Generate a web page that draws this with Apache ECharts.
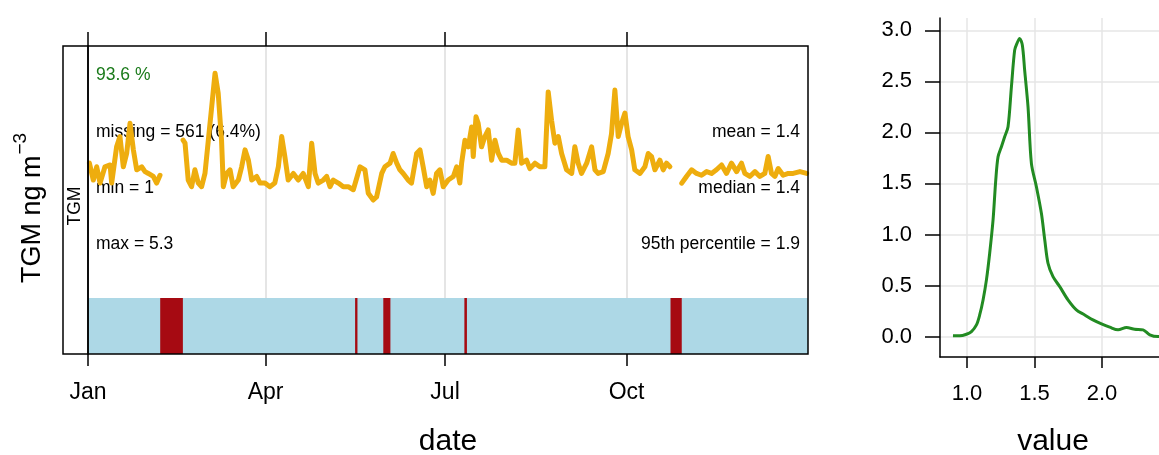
<!DOCTYPE html>
<html><head><meta charset="utf-8">
<script src="https://cdn.jsdelivr.net/npm/echarts@6/dist/echarts.min.js"></script>
<style>html,body{margin:0;padding:0;background:#fff}#c{width:1159px;height:455px}</style>
</head><body><div id="c"></div>
<script>
// ---------- data ----------
const yearStart = '2013-01-01';
const yearEnd = '2014-01-01';
const monthTickDates = ['2013-01-01', '2013-04-01', '2013-07-01', '2013-10-01'];
const monthTickLabels = ['Jan', 'Apr', 'Jul', 'Oct'];

// daily TGM (ng m-3), day offset from Jan 1; null = gap
const tsDay = [0.7,2.7,4.4,6.1,8.6,11.2,12.0,14.5,16.2,17.9,19.6,21.3,23.0,24.7,27.2,28.9,30.6,33.1,34.8,36.5,
  42,
  48.2,49.2,50.8,52.5,54.2,55.9,57.6,59.3,61.0,62.7,64.4,66.0,67.7,68.6,70.3,72.0,73.6,76.2,77.9,79.6,81.3,83.0,85.5,87.2,89.7,
  92.2,94.7,96.5,98.2,99.8,101.5,104.1,106.6,109.1,111.7,113.4,115.1,116.7,119.3,121.0,122.7,124.3,126.9,129.4,131.9,134.5,
  137.9,140.4,142.1,144.6,146.3,148.9,150.5,153.1,154.7,156.5,158.1,159.8,162.3,164.0,166.6,168.3,169.9,171.7,173.3,175.0,
  176.7,178.4,180.1,182.6,185.2,186.9,188.5,189.4,191.1,192.8,194.5,195.3,196.7,197.8,199.5,201.2,202.9,204.6,206.3,208.0,
  209.7,212.2,214.7,216.4,218.1,219.8,222.3,224.0,226.6,229.1,231.6,233.3,235.0,236.7,238.4,240.1,242.6,245.2,246.8,248.5,
  250.2,252.8,255.3,257.0,258.6,261.2,263.7,265.4,267.1,268.8,270.5,272.2,273.8,275.6,277.2,279.8,282.3,284.0,285.7,287.4,
  289.9,291.6,293.3,295.0,
  298,
  301.0,303.4,306.0,308.5,311.0,313.6,316.1,318.6,321.2,323.7,326.2,328.8,331.3,333.0,335.5,338.1,340.6,343.1,344.8,346.5,
  348.2,349.9,352.4,355.0,357.5,360.9,364.3];
const tsValue = [1.66,1.38,1.60,1.33,1.60,1.63,1.33,1.93,2.10,1.60,1.82,2.32,1.88,1.55,1.60,1.52,1.49,1.44,1.33,1.46,
  null,
  2.04,1.99,1.38,1.27,1.55,1.33,1.27,1.49,2.04,2.59,3.15,2.82,2.04,1.27,1.49,1.55,1.27,1.38,1.60,1.88,1.71,1.38,1.44,1.33,1.33,
  1.27,1.33,1.60,2.10,1.77,1.38,1.49,1.38,1.49,1.27,1.99,1.49,1.33,1.38,1.44,1.27,1.38,1.33,1.27,1.27,1.22,
  1.60,1.55,1.16,1.05,1.10,1.49,1.60,1.66,1.82,1.66,1.55,1.49,1.38,1.33,1.82,1.88,1.60,1.27,1.38,1.16,
  1.49,1.55,1.27,1.38,1.44,1.60,1.33,1.66,2.04,1.93,2.26,1.77,2.43,2.32,1.93,2.10,2.21,1.71,2.04,1.82,
  1.71,1.71,1.66,1.66,2.21,1.66,1.71,1.57,1.66,1.60,1.60,2.84,2.37,1.99,2.10,1.82,1.55,1.49,1.93,1.66,
  1.49,1.66,1.93,1.55,1.49,1.52,1.82,2.15,2.87,2.10,2.32,2.49,2.10,1.88,1.55,1.49,1.60,1.82,1.77,1.55,
  1.71,1.55,1.66,1.60,
  null,
  1.33,1.44,1.55,1.49,1.46,1.52,1.49,1.55,1.63,1.49,1.66,1.52,1.66,1.49,1.44,1.52,1.44,1.49,1.77,1.49,
  1.44,1.57,1.46,1.49,1.49,1.52,1.49];

// missing-data periods (day offsets)
const missingStartDay = [36.6, 135.4, 149.7, 190.8, 295.3];
const missingEndDay   = [48.1, 136.6, 153.3, 192.1, 301.0];

// density of TGM values
const densityX = [0.896,0.946,0.996,1.033,1.07,1.094,1.119,1.144,1.168,1.193,1.213,1.23,1.255,1.279,1.304,1.329,1.353,1.370,1.390,
  1.41,1.427,1.452,1.477,1.514,1.551,1.576,1.6,1.637,1.687,1.748,1.81,1.872,1.933,1.996,2.057,2.119,2.181,2.242,2.304,2.354,2.415,2.5];
const densityY = [0.007,0.007,0.023,0.049,0.114,0.212,0.359,0.555,0.816,1.142,1.533,1.761,1.859,1.957,2.055,2.446,2.805,2.871,2.92,
  2.854,2.61,2.25,1.697,1.468,1.207,0.946,0.718,0.587,0.489,0.359,0.261,0.212,0.163,0.124,0.092,0.066,0.088,0.072,0.066,0.017,0.0,0.0];
const densityTicksX = [1.0, 1.5, 2.0];
const densityTicksY = [0.0, 0.5, 1.0, 1.5, 2.0, 2.5, 3.0];

const varName = 'TGM';
const percentLabel = '93.6 %';
const statsLeft = ['missing = 561 (6.4%)', 'min = 1', 'max = 5.3'];
const statsRight = ['mean = 1.4', 'median = 1.4', '95th percentile = 1.9'];
const yTitleMain = 'TGM ng m';
const yTitleSup = '\u22123';

// ---------- build ----------
const FONT = '"Liberation Sans", Arial, sans-serif';
const DAY = 86400000;
const t0 = Date.parse(yearStart), t1 = Date.parse(yearEnd);
const tickTs = monthTickDates.map(d => Date.parse(d));
const tsData = tsDay.map((d, i) => [t0 + d * DAY, tsValue[i] === null ? '-' : tsValue[i]]);
const missData = missingStartDay.map((s, i) => [t0 + s * DAY, t0 + missingEndDay[i] * DAY]);
const densData = densityX.map((x, i) => [x, densityY[i]]);

const ctx = document.createElement('canvas').getContext('2d');
const yTitleSize = 27, ySupSize = 19;
ctx.font = yTitleSize + 'px "Liberation Sans"';
const yTitleW = ctx.measureText(yTitleMain).width;

const graphics = [
  {type: 'rect', shape: {x: 63, y: 46, width: 25, height: 308}, style: {fill: 'none', stroke: '#000', lineWidth: 1.5}, z: 20},
  {type: 'text', x: 75.5, y: 206, rotation: Math.PI / 2,
    style: {text: varName, fontSize: 17.5, fontFamily: FONT, fill: '#000', align: 'center', verticalAlign: 'middle'}},
  {type: 'text', x: 96, y: 75.5, style: {text: percentLabel, fontSize: 17.5, fontFamily: FONT, fill: '#1a7a1a', align: 'left', verticalAlign: 'middle'}},
  {type: 'group', x: 41.7, y: 283, rotation: Math.PI / 2, children: [
    {type: 'text', x: 0, y: -0.3465 * yTitleSize, style: {text: yTitleMain, fontSize: yTitleSize, fontFamily: FONT, fill: '#000', align: 'left', verticalAlign: 'middle'}},
    {type: 'text', x: yTitleW + 1, y: -14 - 0.3465 * ySupSize, style: {text: yTitleSup, fontSize: ySupSize, fontFamily: FONT, fill: '#000', align: 'left', verticalAlign: 'middle'}}
  ]}
];
const rowsY = [132.5, 188, 244];
statsLeft.forEach((t, i) => graphics.push({type: 'text', x: 96, y: rowsY[i],
  style: {text: t, fontSize: 17.5, fontFamily: FONT, fill: '#000', align: 'left', verticalAlign: 'middle'}}));
statsRight.forEach((t, i) => graphics.push({type: 'text', x: 800, y: rowsY[i],
  style: {text: t, fontSize: 17.5, fontFamily: FONT, fill: '#000', align: 'right', verticalAlign: 'middle'}}));

const monthFmt = v => { const i = tickTs.indexOf(v); return i >= 0 ? monthTickLabels[i] : ''; };

const option = {
  animation: false,
  backgroundColor: '#fff',
  grid: [
    {left: 88, top: 46, width: 720, height: 308, show: true, borderColor: '#000', borderWidth: 1.5, backgroundColor: 'transparent', z: 10, outerBoundsMode: 'none', containLabel: false},
    {left: 88, top: 298, width: 720, height: 56, show: true, backgroundColor: '#ADD8E6', borderWidth: 0, z: 1, outerBoundsMode: 'none', containLabel: false},
    {left: 940, top: 18, width: 226, height: 339, show: false, outerBoundsMode: 'none', containLabel: false}
  ],
  xAxis: [
    {type: 'value', gridIndex: 0, min: t0, max: t1, position: 'bottom',
      axisLine: {show: false, onZero: false},
      axisTick: {show: true, inside: false, length: 12, customValues: tickTs, lineStyle: {color: '#000', width: 1.5}},
      axisLabel: {customValues: tickTs, formatter: monthFmt, fontSize: 23, fontFamily: FONT, color: '#000', margin: 27},
      splitLine: {show: true, lineStyle: {color: '#DDDDDD', width: 1.5}},
      name: 'date', nameLocation: 'middle', nameGap: 73, nameTextStyle: {fontSize: 30, fontFamily: FONT, color: '#000'}},
    {type: 'value', gridIndex: 0, min: t0, max: t1, position: 'top',
      axisLine: {show: false, onZero: false},
      axisTick: {show: true, inside: false, length: 14, customValues: tickTs, lineStyle: {color: '#000', width: 1.5}},
      axisLabel: {show: false}, splitLine: {show: false}},
    {type: 'value', gridIndex: 1, min: t0, max: t1, show: false, axisLine: {onZero: false}},
    {type: 'value', gridIndex: 2, min: 0.8, max: 2.474,
      axisLine: {show: true, onZero: false, lineStyle: {color: '#000', width: 1.5}},
      axisTick: {show: true, length: 11, customValues: densityTicksX, lineStyle: {color: '#000', width: 1.5}},
      axisLabel: {customValues: densityTicksX, formatter: v => v.toFixed(1), fontSize: 22, fontFamily: FONT, color: '#000', margin: 26},
      splitLine: {show: true, lineStyle: {color: '#E6E6E6', width: 1.5}},
      name: 'value', nameLocation: 'middle', nameGap: 70, nameTextStyle: {fontSize: 30, fontFamily: FONT, color: '#000'}}
  ],
  yAxis: [
    {type: 'value', gridIndex: 0, min: -1.5, max: 3.6, show: false, axisLine: {onZero: false}},
    {type: 'value', gridIndex: 1, min: 0, max: 1, show: false, axisLine: {onZero: false}},
    {type: 'value', gridIndex: 2, min: -0.2, max: 3.12,
      axisLine: {show: true, onZero: false, lineStyle: {color: '#000', width: 1.5}},
      axisTick: {show: true, length: 15, customValues: densityTicksY, lineStyle: {color: '#000', width: 1.5}},
      axisLabel: {customValues: densityTicksY, formatter: v => v.toFixed(1), fontSize: 22, fontFamily: FONT, color: '#000', margin: 28},
      splitLine: {show: true, lineStyle: {color: '#E6E6E6', width: 1.5}}}
  ],
  series: [
    {type: 'line', xAxisIndex: 0, yAxisIndex: 0, data: tsData, showSymbol: false, connectNulls: false,
      lineStyle: {color: '#EEAD0E', width: 5, join: 'round', cap: 'round'}, itemStyle: {color: '#EEAD0E'}, z: 3},
    {type: 'custom', xAxisIndex: 2, yAxisIndex: 1, data: missData, z: 2,
      renderItem: (params, api) => {
        const a = api.coord([api.value(0), 1]);
        const b = api.coord([api.value(1), 0]);
        return {type: 'rect', shape: {x: a[0], y: a[1], width: Math.max(b[0] - a[0], 1), height: b[1] - a[1]},
          style: {fill: '#A60A12'}};
      }},
    {type: 'line', xAxisIndex: 3, yAxisIndex: 2, data: densData, showSymbol: false, smooth: 0.3,
      lineStyle: {color: '#228B22', width: 3}, itemStyle: {color: '#228B22'}}
  ],
  graphic: graphics
};
const chart = echarts.init(document.getElementById('c'), null, {renderer: 'canvas'});
chart.setOption(option);
</script></body></html>
